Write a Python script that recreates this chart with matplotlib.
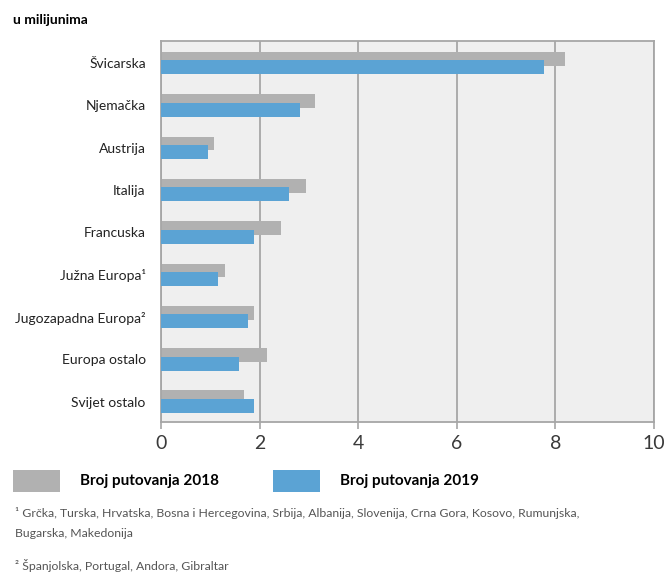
import numpy as np
import matplotlib
matplotlib.use('Agg')
import matplotlib.pyplot as plt
from matplotlib.patches import Rectangle

plt.rcParams['font.family'] = ['Lato', 'DejaVu Sans']

# data (u milijunima)
categories = ['Švicarska', 'Njemačka', 'Austrija', 'Italija', 'Francuska',
              'Južna Europa¹', 'Jugozapadna Europa²', 'Europa ostalo', 'Svijet ostalo']
trips_2018 = [8.2, 3.13, 1.07, 2.94, 2.43, 1.3, 1.89, 2.16, 1.69]
trips_2019 = [7.77, 2.82, 0.95, 2.6, 1.88, 1.15, 1.77, 1.59, 1.88]
xticks = [0, 2, 4, 6, 8, 10]

grey = '#b1b1b1'
blue = '#5ba3d4'

fig = plt.figure(figsize=(6.67, 5.72), dpi=100)
ax = fig.add_axes([0.2414, 0.2622, 0.739, 0.666])
ax.set_facecolor('#efefef')

y = np.arange(len(categories))
h = 0.33
ax.barh(y - 0.1, trips_2018, height=h, color=grey, zorder=2)
ax.barh(y + 0.1, trips_2019, height=h, color=blue, zorder=3)

ax.set_xlim(0, 10)
ax.set_ylim(8.48, -0.52)
ax.set_xticks(xticks)
ax.set_xticklabels([str(t) for t in xticks], fontsize=14, color='#3a3a3a')
ax.set_yticks(y)
ax.set_yticklabels(categories, fontsize=10, color='#222222')
ax.tick_params(axis='y', length=0, pad=11)
ax.tick_params(axis='x', length=5, width=1.2, color='#a6a6a6', pad=4)
ax.grid(axis='x', color='#a6a6a6', linewidth=1.3, zorder=1)
for s in ax.spines.values():
    s.set_color('#a6a6a6')
    s.set_linewidth(1.3)

fig.text(0.02, 0.965, 'u milijunima', fontsize=10, fontweight='bold', va='center')

# legend
fig.patches.append(Rectangle((0.02, 0.14), 0.07, 0.038, transform=fig.transFigure,
                             facecolor=grey, edgecolor='none'))
fig.text(0.12, 0.159, 'Broj putovanja 2018', fontsize=11, fontweight='bold', va='center')
fig.patches.append(Rectangle((0.41, 0.14), 0.07, 0.038, transform=fig.transFigure,
                             facecolor=blue, edgecolor='none'))
fig.text(0.51, 0.159, 'Broj putovanja 2019', fontsize=11, fontweight='bold', va='center')

# footnotes
fn = dict(fontsize=8.8, color='#555555', va='center')
fig.text(0.022, 0.103, '¹ Grčka, Turska, Hrvatska, Bosna i Hercegovina, Srbija, Albanija, Slovenija, Crna Gora, Kosovo, Rumunjska,', **fn)
fig.text(0.022, 0.068, 'Bugarska, Makedonija', **fn)
fig.text(0.022, 0.012, '² Španjolska, Portugal, Andora, Gibraltar', **fn)

fig.savefig('out.png', dpi=100)
